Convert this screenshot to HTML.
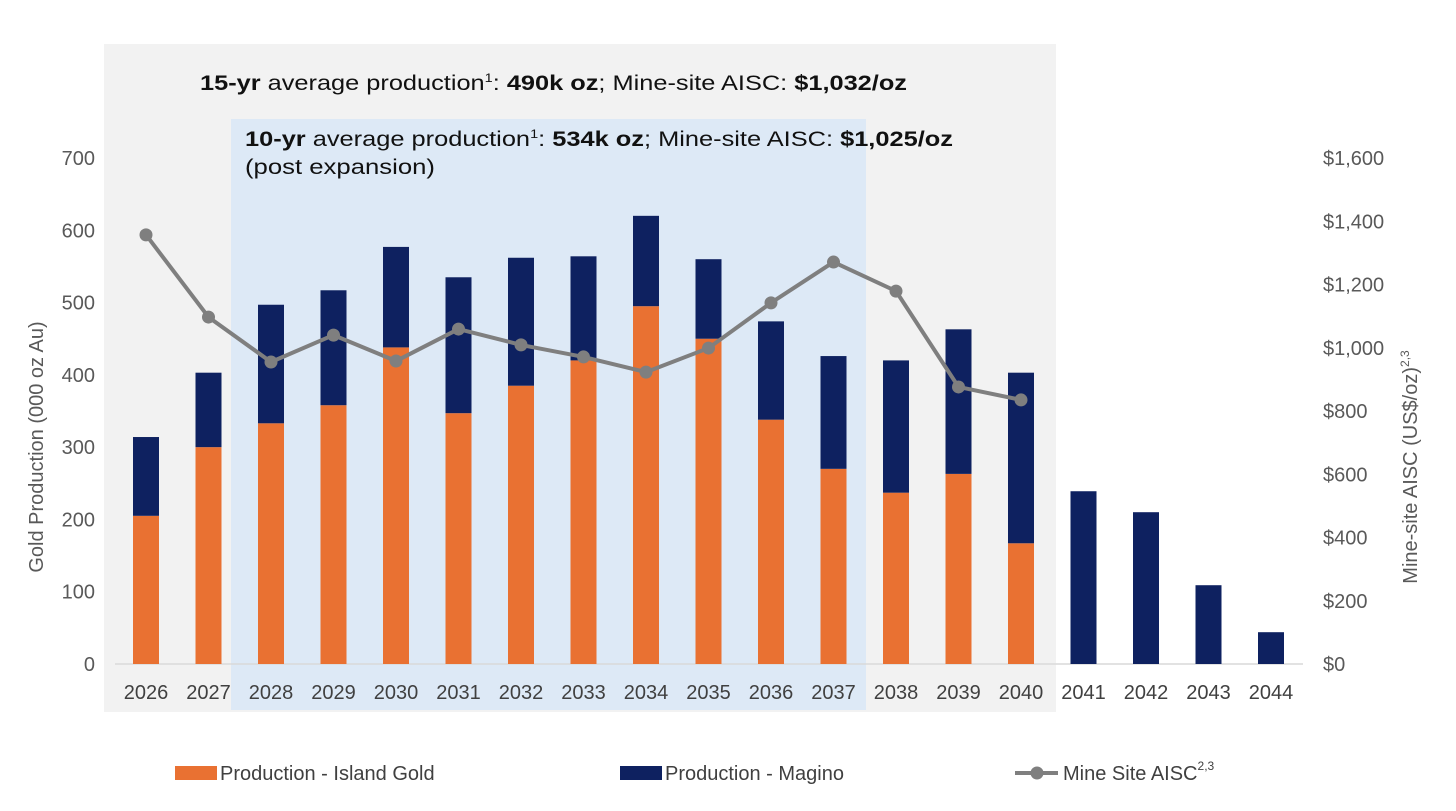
<!DOCTYPE html>
<html><head><meta charset="utf-8"><style>
body{margin:0;background:#fff;}
svg{display:block;font-family:"Liberation Sans",sans-serif;}
</style></head><body>
<svg id="chart" width="1456" height="811" viewBox="0 0 1456 811">
<rect x="104" y="44" width="952" height="668" fill="#f2f2f2"/>
<rect x="231" y="119" width="635" height="591" fill="#dde9f6"/>
<text x="200" y="90" font-size="21" fill="#111" textLength="707" lengthAdjust="spacingAndGlyphs"><tspan font-weight="bold">15-yr</tspan> average production<tspan font-size="12" dy="-8">1</tspan><tspan dy="8">: </tspan><tspan font-weight="bold">490k oz</tspan>; Mine-site AISC: <tspan font-weight="bold">$1,032/oz</tspan></text>
<text x="245" y="146" font-size="21" fill="#111" textLength="708" lengthAdjust="spacingAndGlyphs"><tspan font-weight="bold">10-yr</tspan> average production<tspan font-size="12" dy="-8">1</tspan><tspan dy="8">: </tspan><tspan font-weight="bold">534k oz</tspan>; Mine-site AISC: <tspan font-weight="bold">$1,025/oz</tspan></text>
<text x="245" y="174" font-size="21" fill="#111" textLength="190" lengthAdjust="spacingAndGlyphs">(post expansion)</text>
<g id="axes"></g><g id="bars"></g><g id="line"></g>
<text transform="translate(43,447) rotate(-90)" text-anchor="middle" font-size="20" fill="#595959">Gold Production (000 oz Au)</text>
<text transform="translate(1417,467) rotate(-90)" text-anchor="middle" font-size="20" fill="#595959">Mine-site AISC (US$/oz)<tspan font-size="12" dy="-8">2,3</tspan></text>
<g>
<rect x="175" y="766" width="42" height="14" fill="#e97132"/>
<text x="220" y="780" font-size="20" fill="#404040">Production - Island Gold</text>
<rect x="620" y="766" width="42" height="14" fill="#0e2160"/>
<text x="665" y="780" font-size="20" fill="#404040">Production - Magino</text>
<line x1="1015" y1="773" x2="1058" y2="773" stroke="#7f7f7f" stroke-width="4"/>
<circle cx="1037" cy="773" r="6.5" fill="#7f7f7f"/>
<text x="1063" y="780" font-size="20" fill="#404040">Mine Site AISC<tspan font-size="12" dy="-10">2,3</tspan></text>
</g>
</svg>
<script>
const years=[2026,2027,2028,2029,2030,2031,2032,2033,2034,2035,2036,2037,2038,2039,2040,2041,2042,2043,2044];
const island=[205,300,333,358,438,347,385,420,495,450,338,270,237,263,167,0,0,0,0];
const magino=[109,103,164,159,139,188,177,144,125,110,136,156,183,200,236,239,210,109,44];
const aisc=[1357,1097,955,1040,958,1059,1009,971,923,999,1142,1271,1179,876,835];
const leftTicks=[0,100,200,300,400,500,600,700];
const rightTicks=[0,200,400,600,800,1000,1200,1400,1600];
const NS="http://www.w3.org/2000/svg";
const y0=664;
const yL=v=>y0-v*(506/700);
const yR=v=>y0-v*(506/1600);
const xC=i=>146+i*62.5;
const bw=26;
function mk(tag,attrs,parent){const e=document.createElementNS(NS,tag);for(const k in attrs)e.setAttribute(k,attrs[k]);parent.appendChild(e);return e;}
const axes=document.getElementById('axes'),bars=document.getElementById('bars'),line=document.getElementById('line');
let ax=mk('line',{x1:115,x2:1303,y1:y0,y2:y0,stroke:'#d9d9d9','stroke-width':1.5},axes);


leftTicks.forEach(v=>{const t=mk('text',{x:95,y:yL(v)+7,'text-anchor':'end','font-size':20,fill:'#595959'},axes);t.textContent=v;

});
rightTicks.forEach(v=>{const t=mk('text',{x:1323,y:yR(v)+7,'font-size':20,fill:'#595959'},axes);t.textContent='$'+v.toLocaleString('en-US');

});
years.forEach((yr,i)=>{const t=mk('text',{x:xC(i),y:699,'text-anchor':'middle','font-size':20,fill:'#404040'},axes);t.textContent=yr;


if(island[i]>0){const r=mk('rect',{x:xC(i)-bw/2,y:yL(island[i]),width:bw,height:y0-yL(island[i]),fill:'#e97132'},bars);

}
const top=island[i]+magino[i];
const m=mk('rect',{x:xC(i)-bw/2,y:yL(top),width:bw,height:yL(island[i])-yL(top),fill:'#0e2160'},bars);

});
const pts=aisc.map((v,i)=>xC(i)+','+yR(v)).join(' ');
const pl=mk('polyline',{points:pts,fill:'none',stroke:'#7f7f7f','stroke-width':4,'stroke-linejoin':'round'},line);


aisc.forEach((v,i)=>{const c=mk('circle',{cx:xC(i),cy:yR(v),r:6.5,fill:'#7f7f7f'},line);

});
</script>
</body></html>
